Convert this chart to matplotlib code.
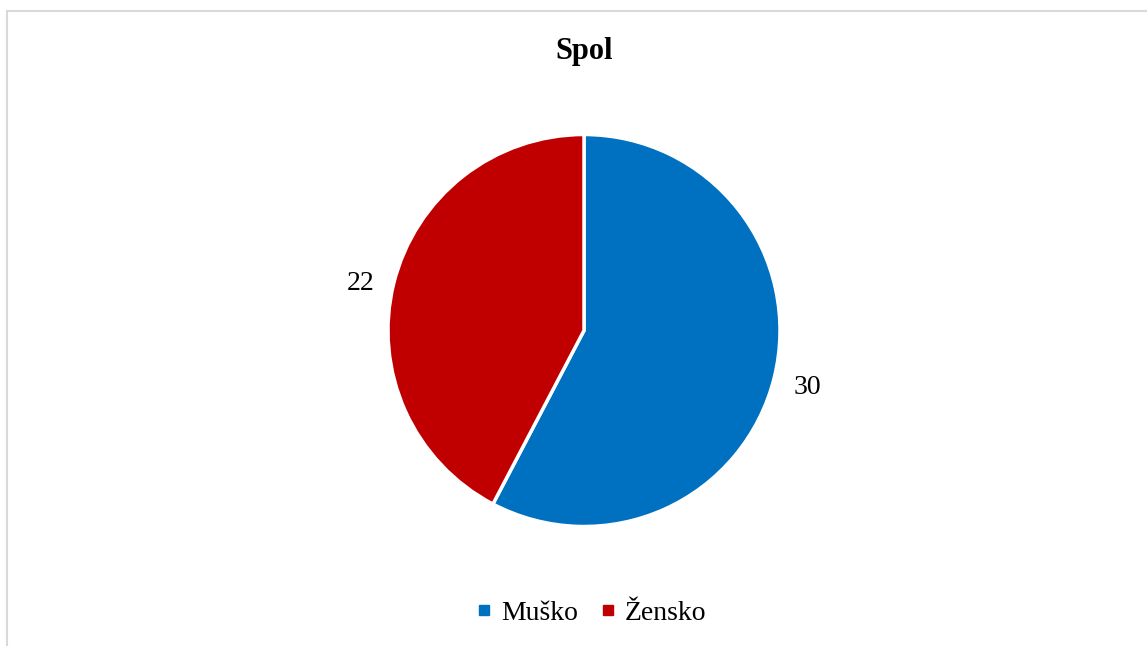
import matplotlib.pyplot as plt
from matplotlib.patches import Rectangle
from matplotlib.lines import Line2D
import matplotlib.transforms as mtransforms

categories = ["Muško", "Žensko"]
values = [30, 22]
colors = ["#0070C0", "#C00000"]

plt.rcParams['font.family'] = ['Liberation Serif', 'DejaVu Serif']

fig = plt.figure(figsize=(11.47, 6.46), dpi=100)
fig.patches.append(Rectangle((7 / 1147, -0.05), 1.2, (646 - 11) / 646 + 0.05,
                             transform=fig.transFigure, fill=False,
                             edgecolor="#d9d9d9", linewidth=1.5))

# pie() sets limits to +/-1.25, so the axes box is 1.25x the pie diameter
r = 196
s = 2 * r * 1.25
ax = fig.add_axes([(584 - s / 2) / 1147, (646 - 330.5 - s / 2) / 646, s / 1147, s / 646])
wedges, texts = ax.pie(values, labels=[str(v) for v in values], colors=colors,
                       startangle=90, counterclock=False,
                       labeldistance=1.1,
                       wedgeprops=dict(edgecolor="white", linewidth=2.5),
                       textprops=dict(fontsize=20, color="#000000"))
ax.set_aspect("equal")
for t in texts:
    t.set_transform(t.get_transform() +
                    mtransforms.ScaledTranslation(0, -5 / 100, fig.dpi_scale_trans))

fig.text(584 / 1147, 1 - 52 / 646, "Spol", ha="center", va="center",
         fontsize=22, fontweight="bold")

handles = [Line2D([], [], marker="s", linestyle="none", markersize=7,
                  markerfacecolor=c, markeredgecolor=c) for c in colors]
fig.legend(handles, categories, loc="center", bbox_to_anchor=(588 / 1147, 1 - 613 / 646),
           ncol=2, frameon=False, fontsize=20, handletextpad=0.1,
           columnspacing=0.58, handlelength=1.0)

fig.savefig("out.png", dpi=100, facecolor="white")
